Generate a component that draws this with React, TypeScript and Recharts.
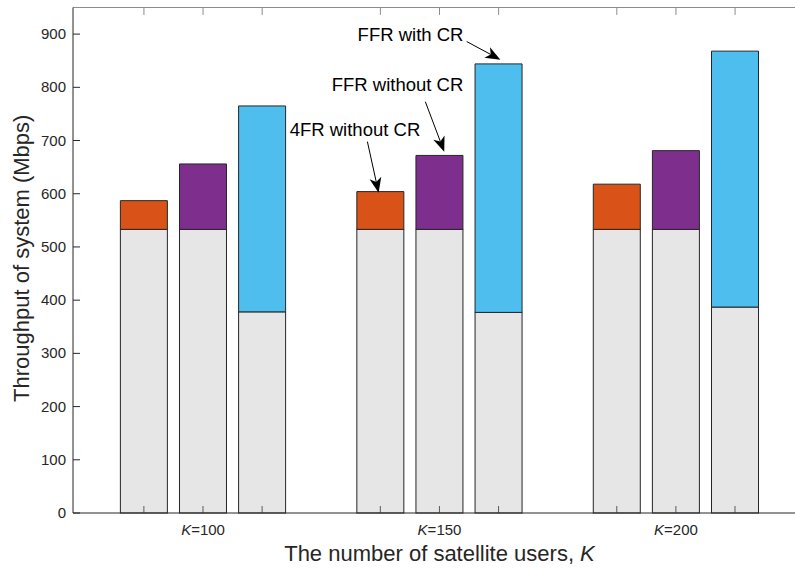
import React from "react";
import {
  BarChart,
  Bar,
  XAxis,
  YAxis,
  Cell,
  ReferenceLine,
  ReferenceDot,
} from "recharts";

const FONT = "'Liberation Sans', Arial, Helvetica, sans-serif";

// number of satellite users per group
const kValues = [100, 150, 200];
const schemes = ["4FR without CR", "FFR without CR", "FFR with CR"];
const schemeColors = ["#D95319", "#7E2F8E", "#4DBEEE"];

// x slot of every bar (one row per K, one column per scheme)
const slots = [
  [1, 2, 3],
  [5, 6, 7],
  [9, 10, 11],
];

// gray lower part and full height of each bar (Mbps), per scheme, per K
const fourFrBase = [533, 533, 533];
const fourFrTotal = [587, 604, 618];
const ffrBase = [533, 533, 533];
const ffrTotal = [656, 672, 681];
const ffrCrBase = [378, 377, 387];
const ffrCrTotal = [765, 844, 868];

const yTicks = [0, 100, 200, 300, 400, 500, 600, 700, 800, 900];

// arrow notes in data coordinates (text centre, arrow tail, arrow tip)
const notes = [
  { text: "FFR with CR", tx: 5.51, ty: 899, x1: 6.46, y1: 886, x2: 7.03, y2: 852 },
  { text: "FFR without CR", tx: 5.29, ty: 805, x1: 5.76, y1: 773, x2: 6.08, y2: 679 },
  { text: "4FR without CR", tx: 4.57, ty: 720, x1: 4.78, y1: 698, x2: 4.97, y2: 602 },
];

const bases = [fourFrBase, ffrBase, ffrCrBase];
const totals = [fourFrTotal, ffrTotal, ffrCrTotal];

const data = kValues.flatMap((k, g) =>
  schemes.map((s, i) => ({
    x: slots[g][i],
    k,
    scheme: s,
    base: bases[i][g],
    extra: totals[i][g] - bases[i][g],
    color: schemeColors[i],
  }))
);

const allSlots = slots.flat();
const labelSlots = slots.map((r) => r[1]);

const BottomTick = (props: any) => {
  const { x, y, payload } = props;
  const g = labelSlots.indexOf(payload.value);
  return (
    <g>
      {g >= 0 && (
        <text
          x={x}
          y={y + 22}
          textAnchor="middle"
          fontSize={15}
          fontFamily={FONT}
          fill="#262626"
        >
          <tspan fontStyle="italic">K</tspan>={kValues[g]}
        </text>
      )}
    </g>
  );
};

const LeftTick = (props: any) => {
  const { x, y, payload } = props;
  return (
    <g>
      <line x1={x} x2={x + 7} y1={y} y2={y} stroke="#262626" />
      <text
        x={x - 7}
        y={y}
        dy={5}
        textAnchor="end"
        fontSize={15}
        fontFamily={FONT}
        fill="#262626"
      >
        {payload.value}
      </text>
    </g>
  );
};

// gray base bar, with the inward x tick drawn over it (axis layer on top)
const BaseShape = (props: any) => {
  const { x, y, width, height, fill } = props;
  const cx = x + width / 2;
  const bottom = y + height;
  return (
    <g>
      <rect x={x} y={y} width={width} height={height} fill={fill} stroke="#262626" strokeWidth={1} />
      <line x1={cx} x2={cx} y1={bottom} y2={bottom - 7} stroke="#5a5a5a" strokeWidth={1} />
    </g>
  );
};

const Arrow = (props: any) => {
  const { x1, y1, x2, y2 } = props;
  const len = Math.hypot(x2 - x1, y2 - y1);
  const ux = (x2 - x1) / len;
  const uy = (y2 - y1) / len;
  const nx = -uy;
  const ny = ux;
  const L = 15;
  const W = 6;
  const back = 4;
  const bx = x2 - L * ux;
  const by = y2 - L * uy;
  const mx = x2 - (L - back) * ux;
  const my = y2 - (L - back) * uy;
  return (
    <g>
      <line x1={x1} y1={y1} x2={mx} y2={my} stroke="#000" strokeWidth={1} />
      <polygon
        points={`${x2},${y2} ${bx + W * nx},${by + W * ny} ${mx},${my} ${bx - W * nx},${by - W * ny}`}
        fill="#000"
      />
    </g>
  );
};

export default function App() {
  return (
    <div
      style={{
        position: "absolute",
        left: 0,
        top: 0,
        width: 795,
        height: 570,
        overflow: "hidden",
        background: "#fff",
        fontFamily: FONT,
      }}
    >
      <BarChart
        width={810}
        height={570}
        data={data}
        margin={{ top: 7.5, right: 4, left: 0, bottom: 0 }}
      >
        <XAxis
          dataKey="x"
          type="number"
          domain={[-0.2, 12.2]}
          ticks={allSlots}
          interval={0}
          allowDataOverflow
          tick={<BottomTick />}
          tickLine={false}
          tickSize={0}
          tickMargin={0}
          axisLine={{ stroke: "#262626" }}
          height={57}
          label={(p: any) => {
            const vb = p.viewBox;
            return (
              <text
                x={vb.x + vb.width / 2}
                y={vb.y + 48}
                textAnchor="middle"
                fontSize={22}
                fontFamily={FONT}
                fill="#262626"
              >
                The number of satellite users, <tspan fontStyle="italic">K</tspan>
              </text>
            );
          }}
        />
        <YAxis
          type="number"
          domain={[0, 950]}
          ticks={yTicks}
          interval={0}
          width={73}
          tick={<LeftTick />}
          tickLine={false}
          tickSize={0}
          tickMargin={0}
          axisLine={{ stroke: "#262626" }}
          label={(p: any) => {
            const vb = p.viewBox;
            const cx = vb.x + 29;
            const cy = vb.y + vb.height / 2 - 2;
            return (
              <text
                x={cx}
                y={cy}
                transform={`rotate(-90, ${cx}, ${cy})`}
                textAnchor="middle"
                fontSize={22}
                fontFamily={FONT}
                fill="#262626"
              >
                Throughput of system (Mbps)
              </text>
            );
          }}
        />
        <Bar
          dataKey="base"
          stackId="s"
          fill="#E6E6E6"
          barSize={47}
          shape={<BaseShape />}
          isAnimationActive={false}
        />
        <Bar
          dataKey="extra"
          stackId="s"
          stroke="#262626"
          strokeWidth={1}
          barSize={47}
          isAnimationActive={false}
        >
          {data.map((d, i) => (
            <Cell key={i} fill={d.color} />
          ))}
        </Bar>
        <ReferenceLine y={950} stroke="#8c8c8c" strokeWidth={1} />
        {allSlots.map((s) => (
          <ReferenceLine
            key={"t" + s}
            segment={[
              { x: s, y: 950 },
              { x: s, y: 936 },
            ]}
            stroke="#8c8c8c"
          />
        ))}
        {notes.map((n) => (
          <ReferenceLine
            key={"a" + n.text}
            segment={[
              { x: n.x1, y: n.y1 },
              { x: n.x2, y: n.y2 },
            ]}
            shape={<Arrow />}
          />
        ))}
        {notes.map((n) => (
          <ReferenceDot
            key={"n" + n.text}
            x={n.tx}
            y={n.ty}
            r={0}
            shape={(p: any) => (
              <text
                x={p.cx}
                y={p.cy}
                dy="0.35em"
                textAnchor="middle"
                fontSize={18.5}
                fontFamily={FONT}
                fill="#000"
              >
                {n.text}
              </text>
            )}
          />
        ))}
      </BarChart>
    </div>
  );
}
